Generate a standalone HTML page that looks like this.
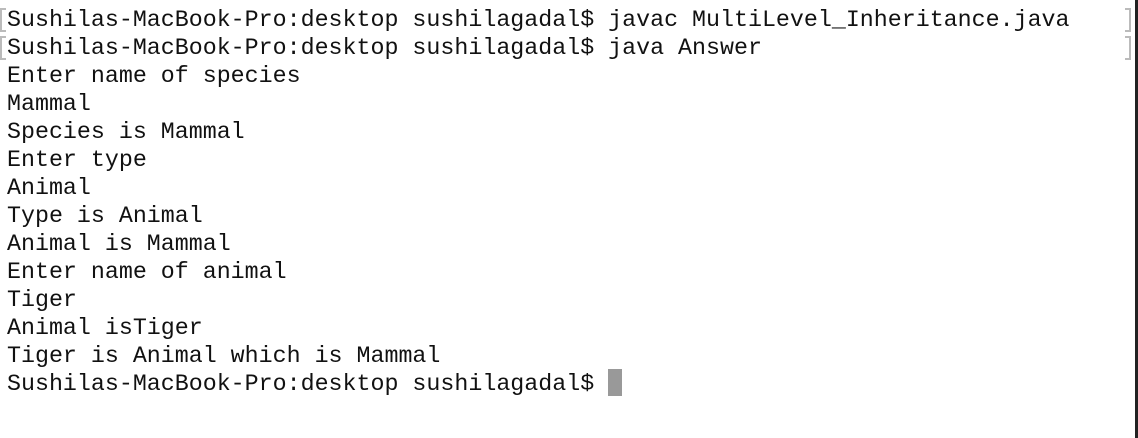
<!DOCTYPE html>
<html><head><style>
body{margin:0;width:1138px;height:438px;background:#fff;position:relative;overflow:hidden;font-family:"Liberation Mono",monospace;}
.l{position:absolute;left:7px;font-size:23.3px;line-height:28px;height:28px;color:#111;white-space:pre;}
.bl{position:absolute;left:0;height:20px;border:2px solid #bbb;border-right:none;width:4px;}
.br{position:absolute;left:1125px;height:20px;border:2px solid #bbb;border-left:none;width:4px;}
</style></head><body>
<div style="position:absolute;right:0;top:0;width:3px;height:438px;background:#222"></div>
<div class="bl" style="top:8px"></div><div class="br" style="top:8px"></div>
<div class="bl" style="top:36px"></div><div class="br" style="top:36px"></div>
<div class="l" style="top:6px">Sushilas-MacBook-Pro:desktop sushilagadal$ javac MultiLevel_Inheritance.java</div>
<div class="l" style="top:34px">Sushilas-MacBook-Pro:desktop sushilagadal$ java Answer</div>
<div class="l" style="top:62px">Enter name of species</div>
<div class="l" style="top:90px">Mammal</div>
<div class="l" style="top:118px">Species is Mammal</div>
<div class="l" style="top:146px">Enter type</div>
<div class="l" style="top:174px">Animal</div>
<div class="l" style="top:202px">Type is Animal</div>
<div class="l" style="top:230px">Animal is Mammal</div>
<div class="l" style="top:258px">Enter name of animal</div>
<div class="l" style="top:286px">Tiger</div>
<div class="l" style="top:314px">Animal isTiger</div>
<div class="l" style="top:342px">Tiger is Animal which is Mammal</div>
<div class="l" style="top:370px">Sushilas-MacBook-Pro:desktop sushilagadal$ </div>
<div style="position:absolute;left:608px;top:369px;width:14px;height:27px;background:#999"></div>
</body></html>
